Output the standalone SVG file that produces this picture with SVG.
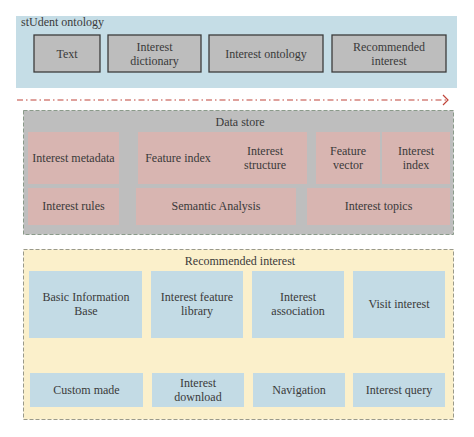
<svg xmlns="http://www.w3.org/2000/svg" width="474" height="437" viewBox="0 0 474 437">
<defs>
<style>
text{font-family:"Liberation Serif","Times New Roman",serif;font-size:12px;fill:#3a3a3a;text-anchor:middle}
.title{text-anchor:start}
.gbox{fill:#bdbdbd;stroke:#3c3c3c;stroke-width:1.3}
.pbox{fill:#d8b5b1}
.bbox{fill:#c3dbe5}
</style>
<marker id="chev" markerWidth="10" markerHeight="12" refX="7" refY="6" orient="auto" markerUnits="userSpaceOnUse">
<path d="M2,1 L7,6 L2,11" fill="none" stroke="#c0453a" stroke-width="1.2"/>
</marker>
</defs>
<rect width="474" height="437" fill="#ffffff"/>
<g id="student-ontology">
<rect x="16" y="16" width="441" height="72" fill="#c5dde6"/>
<text class="title" x="21" y="26">stUdent ontology</text>
</g>
<g id="n-text"><rect class="gbox" x="34" y="35" width="66" height="37"/><text x="67" y="57.5">Text</text></g>
<g id="n-dict"><rect class="gbox" x="108" y="35" width="93" height="37"/><text x="154.5" y="51">Interest</text><text x="154.5" y="65">dictionary</text></g>
<g id="n-onto"><rect class="gbox" x="209" y="35" width="114" height="37"/><text x="266" y="57.5">Interest ontology</text></g>
<g id="n-rec"><rect class="gbox" x="332" y="35" width="114" height="37"/><text x="389" y="51">Recommended</text><text x="389" y="65">interest</text></g>
<g id="connectors">
<line x1="17" y1="100" x2="448" y2="100" stroke="#c0453a" stroke-width="1.2" stroke-dasharray="6,3,1.5,3" marker-end="url(#chev)"/>
</g>
<g id="data-store">
<rect x="23.5" y="110.5" width="430" height="124" fill="#bebebe" stroke="#8a9a8a" stroke-width="1" stroke-dasharray="4,2"/>
<text x="240" y="126">Data store</text>
</g>
<g id="n-meta"><rect class="pbox" x="28" y="132" width="91" height="52"/><text x="73.5" y="162">Interest metadata</text></g>
<g id="n-feat"><rect class="pbox" x="138" y="132" width="169" height="52"/><text x="178" y="162">Feature index</text><text x="265" y="155">Interest</text><text x="265" y="169">structure</text></g>
<g id="n-fvec"><rect class="pbox" x="316" y="132" width="64" height="52"/><text x="348" y="155">Feature</text><text x="348" y="169">vector</text></g>
<g id="n-iidx"><rect class="pbox" x="382" y="132" width="68" height="52"/><text x="416" y="155">Interest</text><text x="416" y="169">index</text></g>
<g id="n-rules"><rect class="pbox" x="28" y="188" width="91" height="37"/><text x="73.5" y="210">Interest rules</text></g>
<g id="n-sem"><rect class="pbox" x="136" y="188" width="160" height="37"/><text x="216" y="210">Semantic Analysis</text></g>
<g id="n-topics"><rect class="pbox" x="307" y="188" width="143" height="37"/><text x="378.5" y="210">Interest topics</text></g>
<g id="recommended-interest">
<rect x="23.5" y="249.5" width="430" height="170" fill="#fbf0cb" stroke="#9a9a8a" stroke-width="1" stroke-dasharray="4,2"/>
<text x="240" y="265">Recommended interest</text>
</g>
<g id="n-basic"><rect class="bbox" x="29" y="271" width="113" height="67"/><text x="86" y="301">Basic Information</text><text x="86" y="315">Base</text></g>
<g id="n-flib"><rect class="bbox" x="151" y="271" width="92" height="67"/><text x="197" y="301">Interest feature</text><text x="197" y="315">library</text></g>
<g id="n-assoc"><rect class="bbox" x="252" y="271" width="92" height="67"/><text x="298" y="301">Interest</text><text x="298" y="315">association</text></g>
<g id="n-visit"><rect class="bbox" x="353" y="271" width="92" height="67"/><text x="399" y="308">Visit interest</text></g>
<g id="n-custom"><rect class="bbox" x="30" y="373" width="113" height="34"/><text x="86.5" y="394">Custom made</text></g>
<g id="n-down"><rect class="bbox" x="152" y="373" width="92" height="34"/><text x="198" y="387">Interest</text><text x="198" y="401">download</text></g>
<g id="n-nav"><rect class="bbox" x="253" y="373" width="92" height="34"/><text x="299" y="394">Navigation</text></g>
<g id="n-query"><rect class="bbox" x="353" y="373" width="92" height="34"/><text x="399" y="394">Interest query</text></g>
</svg>
